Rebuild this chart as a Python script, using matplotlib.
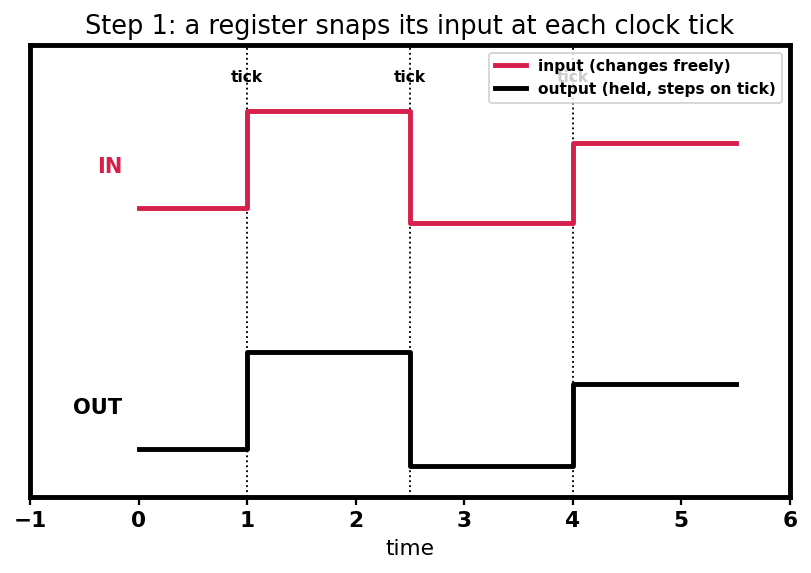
import matplotlib
matplotlib.use("Agg")
import matplotlib.pyplot as plt

# clock ticks and signal levels
ticks = [1, 2.5, 4]
t_edges = [0, 1, 2.5, 4, 5.5]
in_vals = [0.2, 1.0, 0.07, 0.74]
out_vals = [0.2, 1.0, 0.06, 0.74]
offset = 2.0
xticks = [-1, 0, 1, 2, 3, 4, 5, 6]

fig = plt.figure(figsize=(811/135, 573/135), dpi=135)
ax = fig.add_axes([0.037, 0.1326, 0.937, 0.7889])

for t in ticks:
    ax.axvline(t, color='k', ls=':', lw=1, zorder=1)
    ax.text(t, 3.28, 'tick', ha='center', va='center', fontsize=8.3,
            fontweight='bold', zorder=2)

y_in = [v + offset for v in in_vals] + [in_vals[-1] + offset]
y_out = out_vals + [out_vals[-1]]
ax.plot(t_edges, y_in, drawstyle='steps-post', color='#d61f4a', lw=2.6,
        label='input (changes freely)', zorder=3)
ax.plot(t_edges, y_out, drawstyle='steps-post', color='k', lw=2.6,
        label='output (held, steps on tick)', zorder=3)

ax.text(-0.15, offset + 0.54, 'IN', ha='right', va='center', fontsize=11.2,
        fontweight='bold', color='#d61f4a')
ax.text(-0.15, 0.54, 'OUT', ha='right', va='center', fontsize=11.2,
        fontweight='bold', color='k')

ax.set_xlim(-1, 6)
ax.set_ylim(-0.2, 3.55)
ax.set_yticks([])
ax.set_xticks(xticks)
for lbl in ax.get_xticklabels():
    lbl.set_fontweight('bold')
    lbl.set_fontsize(11.5)
ax.tick_params(axis='x', width=1.2, length=4)
for s in ax.spines.values():
    s.set_linewidth(2.6)
ax.set_xlabel('time', fontsize=11.5)
ax.set_title('Step 1: a register snaps its input at each clock tick', fontsize=13.7)
leg = ax.legend(loc='upper right', prop={'weight': 'bold', 'size': 8.2})
leg.set_zorder(5)

fig.savefig('out.png', dpi=135)
